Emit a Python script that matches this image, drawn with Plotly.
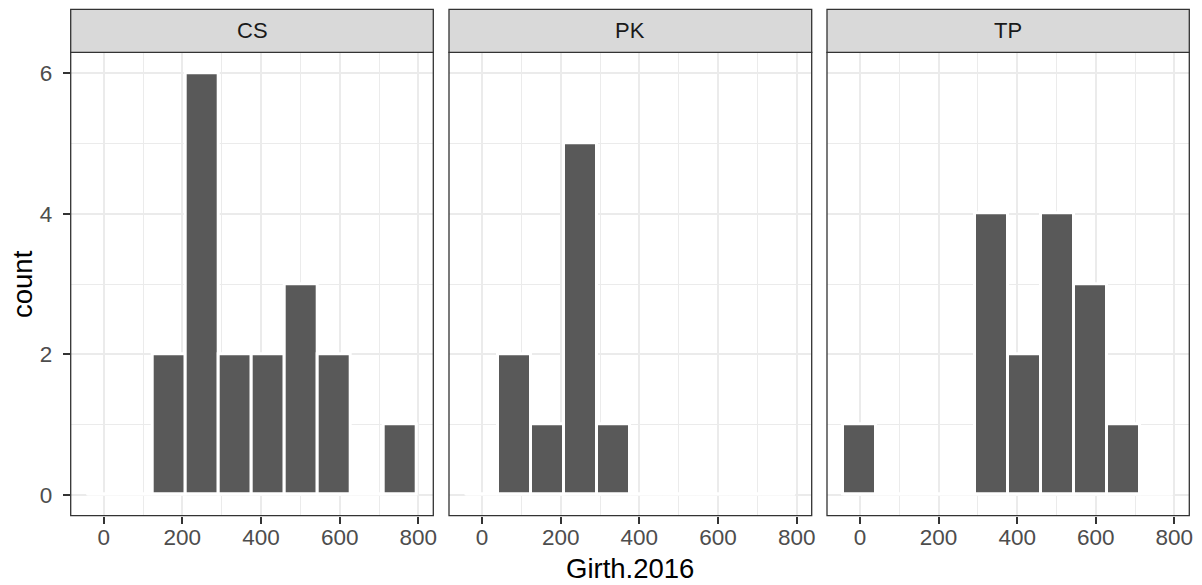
import plotly.graph_objects as go
from plotly.subplots import make_subplots

# Histogram of Girth.2016 by site: shared bins, counts per bin
BIN_WIDTH = 83.8
BIN_CENTERS = [0.0, 83.8, 167.6, 251.4, 335.2, 419.0, 502.8, 586.6, 670.4, 754.2]
SITES = ["CS", "PK", "TP"]
COUNTS_CS = [0, 0, 2, 6, 2, 2, 3, 2, 0, 1]
COUNTS_PK = [0, 2, 1, 5, 1, 0, 0, 0, 0, 0]
COUNTS_TP = [1, 0, 0, 0, 4, 2, 4, 3, 1, 0]
X_TICKS = [0, 200, 400, 600, 800]
Y_TICKS = [0, 2, 4, 6]

counts_by_site = {"CS": COUNTS_CS, "PK": COUNTS_PK, "TP": COUNTS_TP}

W, H = 1202, 585
M_L, M_R, M_T, M_B = 70, 12, 9, 69
PW, PH = W - M_L - M_R, H - M_T - M_B

def dom_x(px):
    return (px - M_L) / PW

def dom_y(py):
    return (H - M_B - py) / PH

panel_px = [(70.7, 433.3), (449.0, 811.7), (827.0, 1189.3)]
panel_top, panel_bottom, strip_top = 52.3, 515.7, 9.3

fig = make_subplots(rows=1, cols=3, shared_yaxes=True, horizontal_spacing=0.01)

bar_fill = "#595959"
grid_col = "#EBEBEB"
frame_col = "#333333"
tick_font = dict(family="Liberation Sans, Arial, sans-serif", size=22.5, color="#4D4D4D")

lo_edge = BIN_CENTERS[0] - BIN_WIDTH / 2
hi_edge = BIN_CENTERS[-1] + BIN_WIDTH / 2

for i, site in enumerate(SITES):
    col = i + 1
    counts = counts_by_site[site]
    # empty bins leave a white outline along the baseline
    fig.add_trace(go.Scatter(x=[lo_edge, hi_edge], y=[0, 0], mode="lines",
                             line=dict(color="white", width=1.5),
                             hoverinfo="skip", showlegend=False), row=1, col=col)
    fig.add_trace(go.Bar(x=BIN_CENTERS, y=counts, width=BIN_WIDTH,
                         marker=dict(color=bar_fill, line=dict(color="white", width=3)),
                         showlegend=False), row=1, col=col)

span = hi_edge - lo_edge
x_range = [lo_edge - 0.05 * span, hi_edge + 0.05 * span]
y_range = [-0.3, 6.3]

for i in range(3):
    sfx = "" if i == 0 else str(i + 1)
    x0, x1 = panel_px[i]
    fig.layout["xaxis" + sfx].update(
        domain=[dom_x(x0), dom_x(x1)], range=x_range, tickvals=X_TICKS,
        showgrid=True, gridcolor=grid_col, gridwidth=2,
        minor=dict(dtick=100, tick0=0, showgrid=True, gridcolor=grid_col, gridwidth=1, ticks=""),
        ticks="outside", ticklen=7, tickwidth=2, tickcolor=frame_col,
        tickfont=tick_font, ticklabelstandoff=-6,
        showline=False, zeroline=False, fixedrange=True,
    )
    fig.layout["yaxis" + sfx].update(
        domain=[dom_y(panel_bottom), dom_y(panel_top)], range=y_range, tickvals=Y_TICKS,
        showgrid=True, gridcolor=grid_col, gridwidth=2,
        minor=dict(dtick=1, tick0=0, showgrid=True, gridcolor=grid_col, gridwidth=1, ticks=""),
        ticks="outside" if i == 0 else "", ticklen=7, tickwidth=2, tickcolor=frame_col,
        showticklabels=(i == 0), tickfont=tick_font, ticklabelstandoff=6,
        showline=False, zeroline=False, fixedrange=True,
    )

    xref = "x" + sfx + " domain"
    yref = "y" + sfx + " domain"
    panel_h = panel_bottom - panel_top
    strip_h = (panel_top - strip_top) / panel_h
    # panel frame
    fig.add_shape(type="rect", xref=xref, yref=yref, x0=0, x1=1, y0=0, y1=1,
                  line=dict(color=frame_col, width=1.3), fillcolor="rgba(0,0,0,0)", layer="above")
    # facet strip
    fig.add_shape(type="rect", xref=xref, yref=yref, x0=0, x1=1, y0=1, y1=1 + strip_h,
                  line=dict(color=frame_col, width=1.3), fillcolor="#D9D9D9", layer="above")
    fig.add_annotation(text=SITES[i], xref=xref, yref=yref, x=0.5, y=1 + strip_h / 2,
                       showarrow=False, xanchor="center", yanchor="middle",
                       font=dict(family="Liberation Sans, Arial, sans-serif", size=22, color="#1A1A1A"))

title_font = dict(family="Liberation Sans, Arial, sans-serif", size=27.5, color="#000000")
fig.add_annotation(text="Girth.2016", xref="paper", yref="paper",
                   x=dom_x((panel_px[0][0] + panel_px[2][1]) / 2), y=dom_y(568),
                   showarrow=False, xanchor="center", yanchor="middle", font=title_font)
fig.add_annotation(text="count", xref="paper", yref="paper",
                   x=dom_x(22), y=dom_y((panel_top + panel_bottom) / 2), textangle=-90,
                   showarrow=False, xanchor="center", yanchor="middle", font=title_font)

fig.update_layout(
    width=W, height=H, margin=dict(l=M_L, r=M_R, t=M_T, b=M_B),
    paper_bgcolor="white", plot_bgcolor="white", bargap=0, barmode="overlay",
    hovermode=False,
)

fig.write_html("out.html")
